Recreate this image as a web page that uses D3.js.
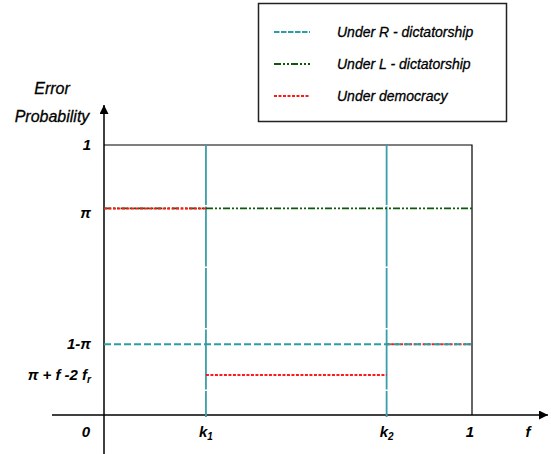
<!DOCTYPE html>
<html>
<head>
<meta charset="utf-8">
<script src="https://cdn.jsdelivr.net/npm/d3@7"></script>
<style>
  html, body { margin: 0; padding: 0; background: #fff; }
  svg { display: block; }
  text { font-family: "Liberation Sans", Arial, sans-serif; font-style: italic; fill: #000; }
  .heavy text { stroke: #000; stroke-width: 0.3; }
</style>
</head>
<body>
<svg id="chart" width="551" height="454"></svg>
<script>
// Thresholds on the f axis
const xTickLabels = ["0", "k1", "k2", "1"];
const xTickValues = [0, 0.277, 0.768, 1];

// Levels on the error-probability axis
const yTickLabels = ["1", "π", "1-π", "π + f -2 fr"];
const yTickValues = [1, 0.765, 0.262, 0.148];

// Series segments: [f start, f end, level]
const seriesNames = ["Under R - dictatorship", "Under L - dictatorship", "Under democracy"];
const rDictatorship = [[0, 1, 0.262]];
const lDictatorship = [[0, 1, 0.765]];
const democracy = [[0, 0.277, 0.765], [0.277, 0.768, 0.148], [0.768, 1, 0.262]];
// Vertical cut-offs drawn at k1 and k2
const cutoffs = [0.277, 0.768];

const svg = d3.select("#chart");
const x = d3.scaleLinear().domain([0, 1]).range([104, 472]);
const y = d3.scaleLinear().domain([0, 1]).range([415, 145]);

const colors = { r: "#2b9ea4", l: "#0b5a0b", d: "#ff1a1a" };
const dashes = { r: "7,3", l: "7,2,2,2,2,2", d: "3,1.5" };

// Frame at f = 1 and probability = 1
svg.append("path")
  .attr("d", `M${x(0)},${y(1)}H${x(1)}V${y(0)}`)
  .attr("fill", "none").attr("stroke", "#000").attr("stroke-width", 1.2);

// Axes with arrowheads
svg.append("defs").append("marker")
  .attr("id", "arrow").attr("viewBox", "0 0 10 10")
  .attr("refX", 10).attr("refY", 5)
  .attr("markerWidth", 9).attr("markerHeight", 9)
  .attr("markerUnits", "userSpaceOnUse")
  .attr("orient", "auto")
  .append("path").attr("d", "M0,0L10,5L0,10Z").attr("fill", "#000");

svg.append("line")
  .attr("x1", 52).attr("x2", 548).attr("y1", y(0)).attr("y2", y(0))
  .attr("stroke", "#000").attr("stroke-width", 1.5).attr("marker-end", "url(#arrow)");
svg.append("line")
  .attr("x1", x(0)).attr("x2", x(0)).attr("y1", 454).attr("y2", 105)
  .attr("stroke", "#000").attr("stroke-width", 1.5).attr("marker-end", "url(#arrow)");

// Cut-off verticals
svg.selectAll(".cut").data(cutoffs).join("line")
  .attr("class", "cut")
  .attr("x1", d => x(d)).attr("x2", d => x(d))
  .attr("y1", y(1)).attr("y2", y(0) + 2)
  .attr("stroke", "#3a9fa8").attr("stroke-width", 1.8)
  .attr("stroke-dasharray", "60,1.5");

function drawSegments(data, key, width) {
  svg.append("g").selectAll("line").data(data).join("line")
    .attr("x1", d => x(d[0])).attr("x2", d => x(d[1]))
    .attr("y1", d => y(d[2])).attr("y2", d => y(d[2]))
    .attr("stroke", colors[key]).attr("stroke-width", width)
    .attr("stroke-dasharray", dashes[key]);
}
// L first, then democracy, with R on top
drawSegments(lDictatorship, "l", 1.8);
drawSegments(democracy, "d", 2);
drawSegments(rDictatorship, "r", 1.8);

// Tick labels
const xl = svg.append("g").attr("font-size", 15).attr("font-weight", "bold");
xTickValues.forEach((v, i) => {
  const lab = xTickLabels[i];
  const t = xl.append("text")
    .attr("x", i === 0 ? 86 : x(v) - (i === 3 ? 2 : 0))
    .attr("y", 437).attr("text-anchor", "middle");
  if (lab.startsWith("k")) {
    t.append("tspan").text("k");
    t.append("tspan").attr("font-size", 10).attr("dy", 3).text(lab.slice(1));
  } else {
    t.text(lab);
  }
});
xl.append("text").attr("x", 528).attr("y", 437).attr("text-anchor", "middle").text("f");

const yl = svg.append("g").attr("font-size", 15).attr("font-weight", "bold");
yTickValues.forEach((v, i) => {
  const lab = yTickLabels[i];
  const t = yl.append("text")
    .attr("x", 91).attr("y", y(v) + (i === 1 ? 10 : 5))
    .attr("text-anchor", "end");
  if (lab.endsWith("fr")) {
    t.append("tspan").text(lab.slice(0, -1));
    t.append("tspan").attr("font-size", 10).attr("dy", 3).text("r");
  } else {
    t.text(lab);
  }
});

// Axis title
const title = svg.append("g").attr("class", "heavy").attr("font-size", 16).attr("text-anchor", "middle");
title.append("text").attr("x", 52).attr("y", 94).text("Error");
title.append("text").attr("x", 52).attr("y", 122).text("Probability");

// Legend
const lg = svg.append("g").attr("class", "heavy");
lg.append("rect").attr("x", 258.5).attr("y", 3.5).attr("width", 248).attr("height", 118)
  .attr("fill", "#fff").attr("stroke", "#222").attr("stroke-width", 1.5);
const legendKeys = ["r", "l", "d"];
seriesNames.forEach((name, i) => {
  const ly = 32 + i * 32;
  lg.append("line").attr("x1", 274).attr("x2", 310).attr("y1", ly).attr("y2", ly)
    .attr("stroke", colors[legendKeys[i]]).attr("stroke-width", 1.8)
    .attr("stroke-dasharray", legendKeys[i] === "r" ? "5.5,1.5" : dashes[legendKeys[i]]);
  lg.append("text").attr("x", 337).attr("y", ly + 5).attr("font-size", 14).text(name);
});
</script>
</body>
</html>
